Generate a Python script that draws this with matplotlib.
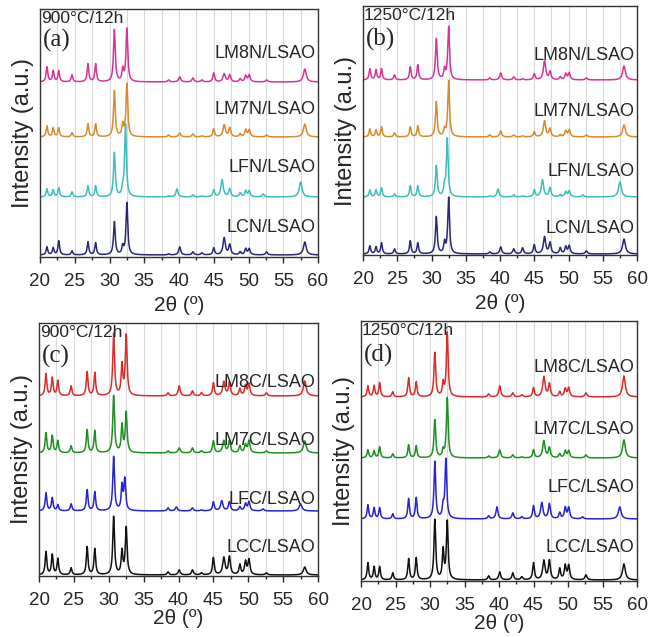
import numpy as np
import matplotlib
matplotlib.use("Agg")
import matplotlib.pyplot as plt
from matplotlib.transforms import offset_copy

plt.rcParams['font.family'] = ['Liberation Sans', 'DejaVu Sans']

# ---------------- data ----------------
two_theta_range = (20, 60)
x_ticks = [20, 25, 30, 35, 40, 45, 50, 55, 60]

# peak positions (2theta, deg)
peaks_main = [21.0, 21.9, 22.7, 24.6, 26.9, 28.0, 30.7, 31.9, 32.5, 38.5, 40.1,
              42.0, 43.3, 45.0, 46.5, 47.3, 48.8, 49.6, 50.1, 52.6, 58.1]
peaks_lf = [21.0, 21.9, 22.7, 24.6, 26.9, 28.0, 30.7, 31.9, 32.3, 38.5, 39.7,
            42.0, 43.3, 45.0, 46.2, 47.3, 48.8, 49.6, 50.1, 52.1, 57.5]
peak_hwhm = [0.14, 0.14, 0.14, 0.14, 0.14, 0.14, 0.15, 0.14, 0.15, 0.15, 0.17,
             0.16, 0.16, 0.15, 0.20, 0.17, 0.15, 0.16, 0.17, 0.17, 0.24]

# panel (a) 900C, Ni series (bottom -> top)
a_labels = ['LCN/LSAO', 'LFN/LSAO', 'LM7N/LSAO', 'LM8N/LSAO']
a_LCN = [8, 7, 14, 4, 13, 12, 33, 8, 52, 1, 8, 3, 2, 7, 17, 10, 3, 6, 6, 3, 13]
a_LFN = [8, 7, 9, 5, 11, 11, 44, 7, 72, 1, 8, 2, 1, 7, 17, 8, 4, 6, 6, 3, 15]
a_LM7N = [11, 9, 9, 4, 13, 13, 46, 12, 53, 2, 4, 3, 1, 8, 12, 9, 3, 7, 7, 2, 13]
a_LM8N = [15, 11, 11, 7, 18, 18, 52, 12, 53, 2, 5, 4, 2, 9, 8, 7, 3, 6, 7, 2, 13]

# panel (b) 1250C, Ni series
b_labels = ['LCN/LSAO', 'LFN/LSAO', 'LM7N/LSAO', 'LM8N/LSAO']
b_LCN = [8, 7, 11, 5, 13, 11, 37, 11, 56, 2, 7, 5, 6, 9, 17, 11, 6, 7, 8, 3, 15]
b_LFN = [7, 7, 9, 3, 11, 11, 31, 10, 58, 1, 8, 2, 1, 7, 17, 9, 2, 5, 6, 2, 15]
b_LM7N = [8, 7, 10, 4, 10, 11, 35, 7, 56, 2, 6, 2, 1, 5, 16, 8, 2, 6, 7, 2, 12]
b_LM8N = [11, 10, 11, 5, 13, 15, 41, 10, 53, 2, 7, 3, 1, 6, 19, 8, 3, 6, 7, 2, 14]

# panel (c) 900C, Co series
c_labels = ['LCC/LSAO', 'LFC/LSAO', 'LM7C/LSAO', 'LM8C/LSAO']
c_LCC = [23, 20, 16, 7, 28, 26, 58, 23, 47, 3, 5, 5, 2, 17, 17, 18, 10, 13, 15, 2, 8]
c_LFC = [18, 13, 6, 7, 21, 19, 54, 24, 31, 3, 4, 3, 1, 9, 10, 9, 4, 7, 9, 2, 7]
c_LM7C = [20, 17, 12, 7, 23, 22, 57, 27, 40, 2, 5, 5, 2, 12, 12, 12, 7, 8, 12, 2, 12]
c_LM8C = [22, 18, 15, 10, 24, 23, 62, 30, 60, 3, 10, 5, 3, 13, 14, 13, 7, 10, 12, 3, 15]

# panel (d) 1250C, Co series
d_labels = ['LCC/LSAO', 'LFC/LSAO', 'LM7C/LSAO', 'LM8C/LSAO']
d_LCC = [17, 13, 13, 7, 21, 22, 60, 29, 58, 4, 8, 7, 3, 17, 19, 19, 11, 14, 14, 5, 16]
d_LFC = [14, 11, 11, 5, 20, 21, 57, 11, 59, 3, 12, 6, 2, 13, 16, 15, 6, 11, 11, 2, 12]
d_LM7C = [8, 7, 11, 4, 13, 12, 38, 7, 60, 2, 8, 3, 1, 8, 17, 10, 4, 7, 7, 3, 18]
d_LM8C = [11, 11, 14, 5, 19, 15, 44, 13, 64, 3, 11, 4, 2, 9, 20, 13, 5, 8, 9, 4, 21]

# vertical offsets of each trace (bottom -> top)
a_offsets = [2, 60, 120, 175]
b_offsets = [1, 58, 118, 175]
c_offsets = [1, 65, 123, 180]
d_offsets = [1, 62, 123, 184]

# label heights
a_label_y = [29, 90, 147, 204]
b_label_y = [27, 84, 143, 200]
c_label_y = [28, 76, 136, 194]
d_label_y = [34, 93, 152, 213]

panel_letters = ['(a)', '(b)', '(c)', '(d)']
panel_conditions = ['900°C/12h', '1250°C/12h', '900°C/12h', '1250°C/12h']

ni_colors = ['#2a2878', '#3dbdbd', '#d88a2c', '#d83399']
co_colors = ['#111111', '#2424d0', '#1f8f24', '#dd2a2a']

# ---------------- drawing ----------------
W, H = 660, 637
fig = plt.figure(figsize=(W / 100, H / 100), dpi=100)

# axes boxes in pixels: left, top, right, bottom
boxes = [(40, 9, 318, 257), (363, 6, 637, 255), (39, 323, 318, 576), (361, 321, 637, 581)]
xlabel_pads = [4, 4, 0, 0]
letter_y = [0.872, 0.867, 0.868, 0.868]

panels = [
    ([a_LCN, a_LFN, a_LM7N, a_LM8N], a_labels, a_offsets, a_label_y, ni_colors),
    ([b_LCN, b_LFN, b_LM7N, b_LM8N], b_labels, b_offsets, b_label_y, ni_colors),
    ([c_LCC, c_LFC, c_LM7C, c_LM8C], c_labels, c_offsets, c_label_y, co_colors),
    ([d_LCC, d_LFC, d_LM7C, d_LM8C], d_labels, d_offsets, d_label_y, co_colors),
]

x = np.linspace(two_theta_range[0], two_theta_range[1], 8001)


def pattern(positions, heights, widths):
    y = np.zeros_like(x)
    for p, h, w in zip(positions, heights, widths):
        y += h * w ** 2 / ((x - p) ** 2 + w ** 2)
    return y


for i, (traces, labels, offsets, label_y, colors) in enumerate(panels):
    l, t, r, b = boxes[i]
    ax = fig.add_axes([l / W, 1 - b / H, (r - l) / W, (b - t) / H])
    ax.set_xlim(*two_theta_range)
    ax.set_ylim(0, b - t)
    for g in np.arange(22.5, 60, 2.5):
        ax.axvline(g, color='#dadada', lw=0.8, zorder=0)
    for k, (heights, off) in enumerate(zip(traces, offsets)):
        pos = peaks_lf if k == 1 else peaks_main
        ax.plot(x, off + pattern(pos, heights, peak_hwhm), color=colors[k], lw=1.1, zorder=2)
        ax.text(59.6, label_y[k], labels[k], ha='right', va='center', fontsize=13,
                color='#262626', zorder=3)
    tr = offset_copy(ax.transAxes, fig=fig, x=0, y=-1.5, units='points')
    ax.text(0.004, 1.0, panel_conditions[i], transform=tr, ha='left', va='top',
            fontsize=12.5, color='#262626', zorder=4)
    ax.text(0.012, letter_y[i], panel_letters[i], transform=ax.transAxes, ha='left', va='center',
            fontsize=18, family=['Liberation Serif', 'DejaVu Serif'], color='#262626', zorder=4)
    ax.set_xticks(x_ticks)
    ax.set_xticks(np.arange(22.5, 60, 5), minor=True)
    ax.set_yticks([])
    ax.tick_params(axis='x', which='major', direction='out', length=4.5, width=1,
                   labelsize=13.5, pad=7, colors='#262626')
    ax.tick_params(axis='x', which='minor', direction='out', length=2.5, width=1, colors='#262626')
    for s in ax.spines.values():
        s.set_linewidth(1.0)
        s.set_color('#333333')
    ax.set_xlabel('2θ (º)', fontsize=15, labelpad=xlabel_pads[i], color='#262626')
    ax.set_ylabel('Intensity (a.u.)', fontsize=17, labelpad=4, color='#262626')

fig.savefig('out.png', dpi=100)
